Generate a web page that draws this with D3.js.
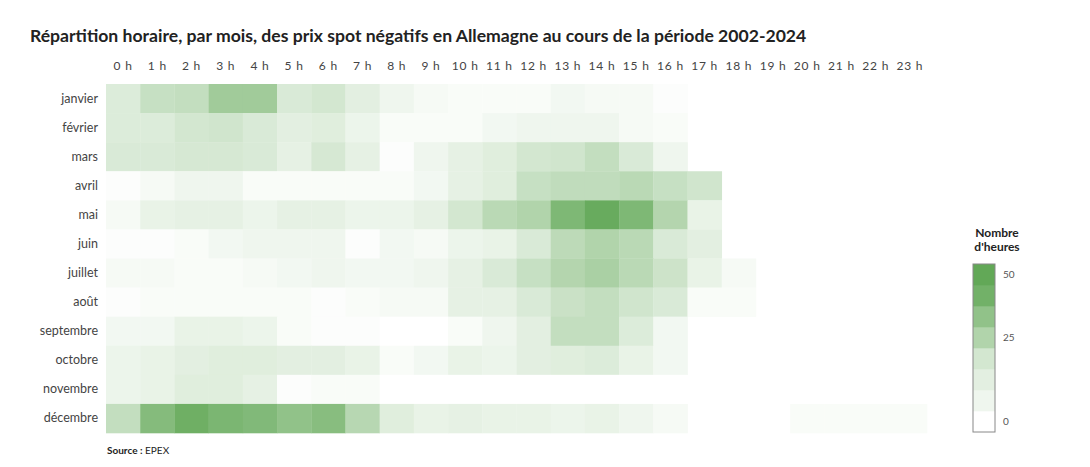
<!DOCTYPE html>
<html>
<head>
<meta charset="utf-8">
<script src="https://cdn.jsdelivr.net/npm/d3@7"></script>
<style>
  body { margin: 0; background: #fff; }
  text { font-family: Lato, "Noto Sans", sans-serif; }
</style>
</head>
<body>
<div id="chart"></div>
<script>
// hours (columns) and months (rows)
var hours = ["0 h","1 h","2 h","3 h","4 h","5 h","6 h","7 h","8 h","9 h","10 h","11 h",
             "12 h","13 h","14 h","15 h","16 h","17 h","18 h","19 h","20 h","21 h","22 h","23 h"];
var months = ["janvier","février","mars","avril","mai","juin","juillet","août",
              "septembre","octobre","novembre","décembre"];

// number of hours with negative spot price, per month (null = no cell)
var janvier   = [11,18,19,30,30,12,14,9,5,3,2,2,2,4,3,3,1,null,null,null,null,null,null,null];
var fevrier   = [11,11,14,15,12,9,10,6,2,2,2,4,5,5,5,3,2,null,null,null,null,null,null,null];
var mars      = [12,12,13,13,12,8,13,8,1,5,8,10,14,15,19,12,5,null,null,null,null,null,null,null];
var avril     = [1,3,5,5,2,2,2,2,2,4,8,10,18,20,20,22,18,15,null,null,null,null,null,null];
var mai       = [3,7,8,8,6,8,8,6,6,8,14,22,25,41,48,41,24,7,null,null,null,null,null,null];
var juin      = [1,1,2,4,5,5,5,1,4,3,6,7,12,21,25,22,12,9,null,null,null,null,null,null];
var juillet   = [3,3,2,2,3,4,5,4,4,5,8,12,18,24,27,22,16,7,3,null,null,null,null,null];
var aout      = [1,2,2,2,2,2,1,2,3,3,8,8,12,17,19,15,12,2,2,null,null,null,null,null];
var septembre = [4,4,7,7,6,2,1,1,0,0,2,5,9,19,19,11,4,null,null,null,null,null,null,null];
var octobre   = [6,7,9,10,10,9,9,7,2,4,7,6,9,10,11,7,4,null,null,null,null,null,null,null];
var novembre  = [6,7,10,10,8,1,2,2,0,0,0,0,0,0,0,0,0,null,null,null,null,null,null,null];
var decembre  = [19,39,46,42,40,35,38,23,10,7,8,7,7,6,7,5,3,null,null,null,2,2,2,2];
var rows = [janvier,fevrier,mars,avril,mai,juin,juillet,aout,septembre,octobre,novembre,decembre];

// legend bands (bottom to top) and labelled values
var legendBands = [0,5,9,14,25,35,45,50];
var legendLabels = [0,25,50];

var W = 1090, H = 467;
var svg = d3.select("#chart").append("svg")
    .attr("width", W)
    .attr("height", H);

var x = d3.scaleBand().domain(hours).range([106, 927]);
var y = d3.scaleBand().domain(months).range([84, 433]);

var color = d3.scaleLinear()
    .domain([0, 50])
    .range(["#ffffff", "#62a857"])
    .clamp(true);

// flatten to cells
var cells = [];
rows.forEach(function(r, i) {
  r.forEach(function(v, j) {
    if (v !== null) cells.push({month: months[i], hour: hours[j], value: v});
  });
});

svg.append("g")
  .selectAll("rect")
  .data(cells)
  .enter()
  .append("rect")
    .attr("x", function(d) { return x(d.hour); })
    .attr("y", function(d) { return y(d.month); })
    .attr("width", x.bandwidth() + 0.3)
    .attr("height", y.bandwidth() + 0.3)
    .style("fill", function(d) { return color(d.value); });

// hour labels on top
var xAxis = svg.append("g")
    .attr("transform", "translate(0,74)")
    .call(d3.axisTop(x).tickSize(0).tickPadding(4));
xAxis.select(".domain").remove();
xAxis.selectAll("text")
    .style("font-family", "Lato, sans-serif")
    .style("font-size", "12px")
    .style("letter-spacing", "0.8px")
    .style("fill", "#444");

// month labels
var yAxis = svg.append("g")
    .attr("transform", "translate(106,0)")
    .call(d3.axisLeft(y).tickSize(0).tickPadding(8));
yAxis.select(".domain").remove();
yAxis.selectAll("text")
    .style("font-family", "Lato, sans-serif")
    .style("font-size", "12.5px")
    .style("fill", "#444");

// title
svg.append("text")
    .attr("x", 30)
    .attr("y", 42)
    .style("font-size", "17.6px")
    .style("font-weight", "bold")
    .style("fill", "#222")
    .text("Répartition horaire, par mois, des prix spot négatifs en Allemagne au cours de la période 2002-2024");

// source
var src = svg.append("text")
    .attr("x", 107)
    .attr("y", 454)
    .style("font-size", "10px")
    .style("fill", "#222");
src.append("tspan").style("font-weight", "bold").text("Source :");
src.append("tspan").text(" EPEX");

// legend
var legendTitle = svg.append("text")
    .attr("x", 997)
    .attr("y", 237)
    .attr("text-anchor", "middle")
    .style("font-size", "12px")
    .style("font-weight", "bold")
    .style("fill", "#222");
legendTitle.append("tspan").attr("x", 997).text("Nombre");
legendTitle.append("tspan").attr("x", 997).attr("dy", 14).text("d'heures");

// reversed band scale: band 0 at the bottom
var ly = d3.scaleBand()
    .domain(d3.range(legendBands.length))
    .range([432, 264]);

var legend = svg.append("g");
legend.selectAll("rect")
  .data(legendBands)
  .enter()
  .append("rect")
    .attr("x", 973)
    .attr("y", function(d, i) { return ly(i); })
    .attr("width", 22)
    .attr("height", ly.bandwidth() + 0.3)
    .style("fill", function(d) { return color(d); });

legend.append("rect")
    .attr("x", 973)
    .attr("y", 264)
    .attr("width", 22)
    .attr("height", 168)
    .style("fill", "none")
    .style("stroke", "#888")
    .style("stroke-width", 1);

legend.selectAll("text.lbl")
  .data(legendLabels)
  .enter()
  .append("text")
    .attr("class", "lbl")
    .attr("x", 1003)
    .attr("y", function(d) { return ly(legendBands.indexOf(d)) + ly.bandwidth() / 2; })
    .attr("dy", "0.35em")
    .style("font-size", "10px")
    .style("fill", "#555")
    .text(function(d) { return d; });
</script>
</body>
</html>
